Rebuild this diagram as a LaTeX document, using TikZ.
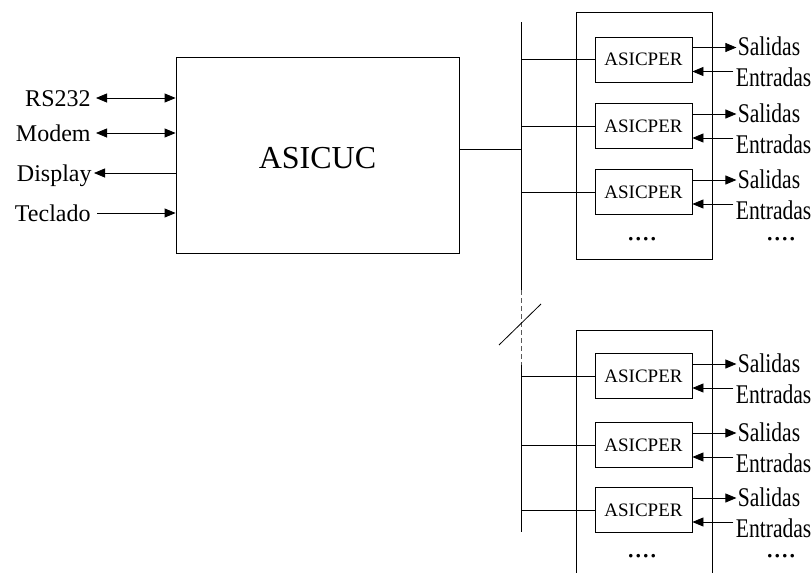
\documentclass[tikz,border=0pt]{standalone}
\usepackage{fontspec}
\setmainfont{Liberation Serif}
\newfontfamily\condserif[FakeStretch=0.8]{Liberation Serif}
\usetikzlibrary{arrows.meta}
\begin{document}
\begin{tikzpicture}[x=1pt,y=-1pt, line width=0.8pt,
  tip/.style={-{Triangle[length=11pt,width=9pt]}},
  dtip/.style={{Triangle[length=11pt,width=9pt]}-{Triangle[length=11pt,width=9pt]}},
  per/.style={draw, minimum width=97pt, minimum height=45pt, inner sep=0pt, font=\fontsize{19}{19}\selectfont},
  lbl/.style={inner sep=0pt, anchor=base east, font=\fontsize{24}{24}\selectfont},
  io/.style={inner sep=0pt, anchor=base west, font=\condserif\fontsize{27}{27}\selectfont},
  dotsl/.style={inner sep=0pt, anchor=base, text height=4pt, text depth=0pt, font=\fontsize{30}{30}\selectfont}]
\useasboundingbox (0,0) rectangle (812,573);

% central unit
\node[draw, minimum width=283pt, minimum height=196pt, inner sep=0pt,
      text height=27pt, text depth=0pt, font=\fontsize{32}{32}\selectfont] (uc) at (317.5,155) {ASICUC};

% left interfaces
\node[lbl] (rs) at (91,106.5) {RS232};
\node[lbl] (mo) at (91,141.5) {Modem};
\node[lbl] (di) at (92,181) {Display};
\node[lbl] (te) at (91,221.5) {Teclado};
\coordinate (crs) at (96,98);
\coordinate (cmo) at (96,133);
\coordinate (cdi) at (94,173);
\coordinate (cte) at (97,213);
\draw[dtip] (crs) -- (crs -| uc.west);
\draw[dtip] (cmo) -- (cmo -| uc.west);
\draw[tip] (cdi -| uc.west) -- (cdi);
\draw[tip] (cte) -- (cte -| uc.west);

% bus
\coordinate (bt) at (521,22);
\coordinate (bd1) at (521,290);
\coordinate (bd2) at (521,365);
\coordinate (bb) at (521,532);
\draw (bt) -- (bd1);
\draw[gray!70!black, line width=0.6pt, dash pattern=on 5pt off 3pt] (bd1) -- (bd2);
\draw (bd2) -- (bb);
\coordinate (ucb) at ([yshift=6pt]uc.east);
\draw (ucb) -- (ucb -| bt);
% slash mark
\coordinate (sl1) at (499,345);
\coordinate (sl2) at (541,304);
\draw (sl1) -- (sl2);

% peripheral groups
\node[draw, minimum width=136pt, minimum height=247pt, inner sep=0pt] (g1) at (644,135.5) {};
\coordinate (g2a) at (576,580);
\coordinate (g2b) at (576,330);
\coordinate (g2c) at (712,330);
\coordinate (g2d) at (712,580);
\draw (g2a) -- (g2b) -- (g2c) -- (g2d);

\foreach \n/\c in {1/59.5, 2/126, 3/192, 4/376, 5/445, 6/510}{
  \node[per] (p\n) at (643.5,\c) {ASICPER};
  \draw (p\n.west) -- (p\n.west -| bt);
  \node[io] (s\n) at ([xshift=45pt,yshift=4pt]p\n.east) {Salidas};
  \node[io] (e\n) at ([xshift=43pt,yshift=-27pt]p\n.east) {Entradas};
  \coordinate (so\n) at ([yshift=12pt]p\n.east);
  \coordinate (ei\n) at ([yshift=-12pt]p\n.east);
  \draw[tip, shorten >=1pt] (so\n) -- (so\n -| s\n.west);
  \draw[tip, shorten <=2pt] (ei\n -| e\n.west) -- (ei\n);
}

\node[dotsl] (d1) at (642,240) {....};
\node[dotsl] (d2) at (781,240) {....};
\node[dotsl] (d3) at (642,557) {....};
\node[dotsl] (d4) at (781,557) {....};
\end{tikzpicture}
\end{document}
